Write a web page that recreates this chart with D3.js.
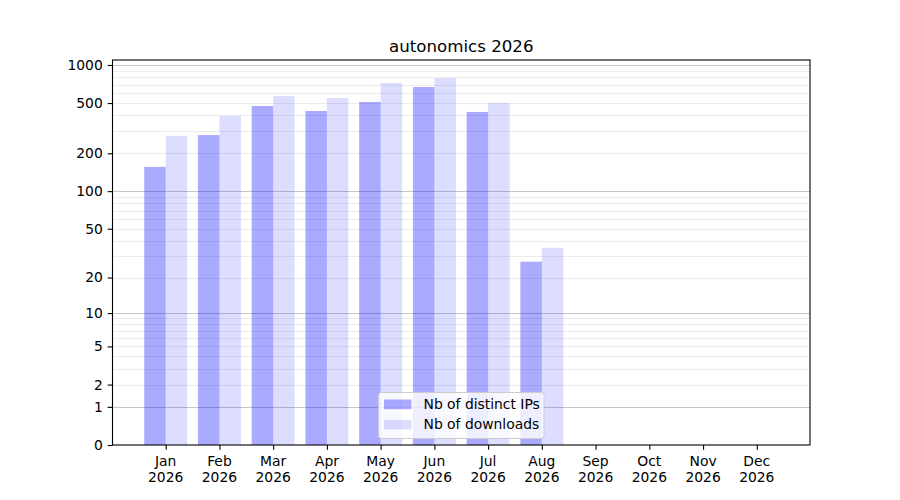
<!DOCTYPE html>
<html>
<head>
<meta charset="utf-8">
<script src="https://cdn.jsdelivr.net/npm/d3@7"></script>
<style>
  body { margin: 0; background: #fff; }
  text { font-family: "DejaVu Sans", sans-serif; }
</style>
</head>
<body>
<svg id="chart" width="900" height="500"></svg>
<script>
const title = "autonomics 2026";
const months = ["Jan","Feb","Mar","Apr","May","Jun","Jul","Aug","Sep","Oct","Nov","Dec"];
const year = "2026";
const distinctIPs = [156, 279, 474, 433, 510, 670, 425, 27, 0, 0, 0, 0];
const downloads   = [275, 395, 569, 548, 721, 789, 500, 35, 0, 0, 0, 0];
const yTicks = [0, 1, 2, 5, 10, 20, 50, 100, 200, 500, 1000];
const majorGrid = [1, 10, 100, 1000];
const minorGrid = [2,3,4,5,6,7,8,9,20,30,40,50,60,70,80,90,200,300,400,500,600,700,800,900];
const seriesNames = ["Nb of distinct IPs", "Nb of downloads"];

const svg = d3.select("#chart");
const L = 112.5, R = 810, T = 60, B = 445;
const fs = "13.89px";

const x = d3.scaleLinear().domain([-0.99, 11.99]).range([L, R]);
const y = d3.scaleSymlog().constant(1).domain([0, 1095]).range([B, T]);

// gridlines
const g = svg.append("g");
g.selectAll("line.minor").data(minorGrid).join("line")
  .attr("x1", L).attr("x2", R)
  .attr("y1", d => Math.round(y(d)) + 0.5).attr("y2", d => Math.round(y(d)) + 0.5)
  .attr("stroke", "#000").attr("stroke-opacity", 0.075).attr("stroke-width", 1);
g.selectAll("line.major").data(majorGrid).join("line")
  .attr("x1", L).attr("x2", R)
  .attr("y1", d => Math.round(y(d)) + 0.5).attr("y2", d => Math.round(y(d)) + 0.5)
  .attr("stroke", "#000").attr("stroke-opacity", 0.22).attr("stroke-width", 1);

// bars
const bw = 0.4;
svg.append("g").selectAll("rect").data(distinctIPs).join("rect")
  .attr("x", (d, i) => x(i - bw))
  .attr("width", (d, i) => x(i) - x(i - bw))
  .attr("y", d => y(d))
  .attr("height", d => B - y(d))
  .attr("fill", "blue").attr("fill-opacity", 0.333);
svg.append("g").selectAll("rect").data(downloads).join("rect")
  .attr("x", (d, i) => x(i))
  .attr("width", (d, i) => x(i + bw) - x(i))
  .attr("y", d => y(d))
  .attr("height", d => B - y(d))
  .attr("fill", "blue").attr("fill-opacity", 0.135);

// frame
svg.append("rect").attr("x", L).attr("y", T).attr("width", R - L).attr("height", B - T)
  .attr("fill", "none").attr("stroke", "#000").attr("stroke-width", 1.1);

// y axis
const yAxis = svg.append("g").attr("transform", `translate(${L},0)`)
  .call(d3.axisLeft(y).tickValues(yTicks).tickFormat(d3.format("d")).tickSize(4.86).tickPadding(4.86));
yAxis.select(".domain").remove();
yAxis.selectAll("line").attr("stroke", "#000").attr("stroke-width", 1.1);
yAxis.selectAll("text").attr("font-size", fs).attr("fill", "#000")
  .attr("font-family", "DejaVu Sans, sans-serif");

// x axis
const xAxis = svg.append("g").attr("transform", `translate(0,${B})`)
  .call(d3.axisBottom(x).tickValues(d3.range(months.length)).tickFormat("").tickSize(4.86));
xAxis.select(".domain").remove();
xAxis.selectAll("line").attr("stroke", "#000").attr("stroke-width", 1.1);
const xl = svg.append("g").selectAll("text").data(months).join("text")
  .attr("x", (d, i) => x(i)).attr("y", 465.5)
  .attr("text-anchor", "middle").attr("font-size", fs).attr("fill", "#000");
xl.append("tspan").attr("x", (d, i) => x(i)).text(d => d);
xl.append("tspan").attr("x", (d, i) => x(i)).attr("dy", 16.2).text(year);

// title
svg.append("text").attr("x", (L + R) / 2).attr("y", 52)
  .attr("text-anchor", "middle").attr("font-size", "16.67px").attr("fill", "#000").text(title);

// legend
const lg = svg.append("g");
lg.append("rect").attr("x", 378.5).attr("y", 392.5).attr("width", 165.5).attr("height", 46)
  .attr("rx", 3).attr("fill", "#fff").attr("fill-opacity", 0.8)
  .attr("stroke", "#ccc").attr("stroke-width", 1);
const opac = [0.333, 0.135];
seriesNames.forEach((name, i) => {
  lg.append("rect").attr("x", 384).attr("y", 399.5 + i * 20.3).attr("width", 27.5).attr("height", 9.7)
    .attr("fill", "blue").attr("fill-opacity", opac[i]);
  lg.append("text").attr("x", 423.5).attr("y", 409 + i * 20.3)
    .attr("font-size", fs).attr("fill", "#000").text(name);
});
</script>
</body>
</html>
